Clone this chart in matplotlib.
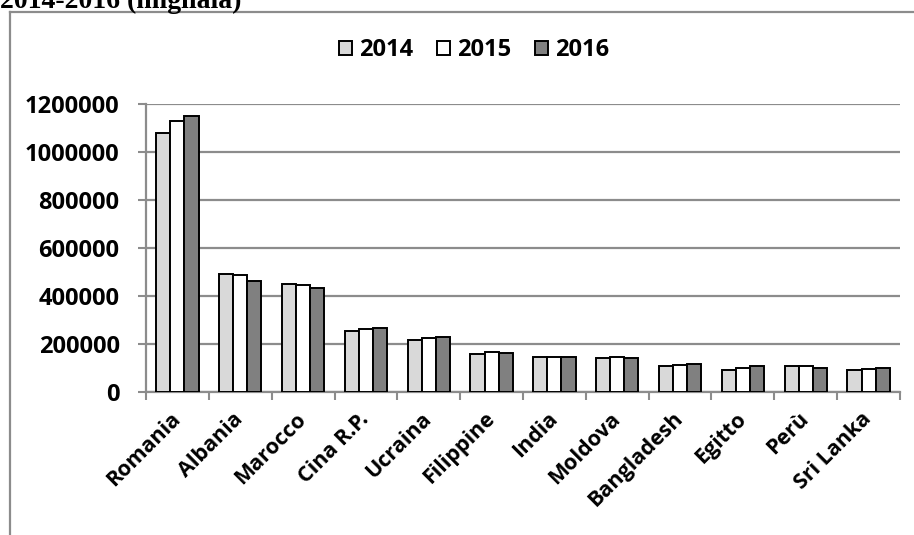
import matplotlib.pyplot as plt
import numpy as np
from matplotlib.lines import Line2D

paesi = ['Romania', 'Albania', 'Marocco', 'Cina R.P.', 'Ucraina', 'Filippine',
         'India', 'Moldova', 'Bangladesh', 'Egitto', 'Perù', 'Sri Lanka']
anni = ['2014', '2015', '2016']
v2014 = [1079000, 494000, 452000, 255000, 218000, 161000, 147000, 142000, 110000, 94000, 110000, 93000]
v2015 = [1129000, 489000, 446000, 264000, 225000, 167000, 147000, 146000, 114000, 103000, 108000, 98000]
v2016 = [1150000, 465000, 435000, 269000, 229000, 164000, 148000, 142000, 117000, 108000, 103000, 101000]
colori = ['#d9d9d9', '#ffffff', '#808080']

W, H = 914, 535
fig = plt.figure(figsize=(W / 100, H / 100), dpi=100)
ax = fig.add_axes([146 / W, 1 - 392.3 / H, (900 - 146) / W, (392.3 - 104.3) / H])

font = {'family': 'Open Sans', 'weight': 'bold'}

x = np.arange(len(paesi))
bw = 0.225
for i, (serie, c) in enumerate(zip([v2014, v2015, v2016], colori)):
    ax.bar(x + (i - 1) * bw, serie, bw, color=c, edgecolor='black', linewidth=1.4,
           label=anni[i], zorder=3)

ax.set_xlim(-0.5, len(paesi) - 0.5)
ax.set_ylim(0, 1200000)
ax.set_yticks(range(0, 1200001, 200000))
ax.set_yticklabels([str(v) for v in range(0, 1200001, 200000)], fontsize=17, **font)
ax.yaxis.grid(True, color='#8c8c8c', linewidth=1.6, zorder=0)
ax.set_axisbelow(True)

# tick marks between categories, labels at the centres
ax.set_xticks(np.arange(-0.5, len(paesi), 1))
ax.set_xticklabels([])
ax.set_xticks(x, minor=True)
ax.set_xticklabels(paesi, minor=True, rotation=45, ha='right', va='center',
                   rotation_mode='anchor', fontsize=15.5, **font)
ax.tick_params(axis='x', which='minor', length=0, pad=17)
ax.tick_params(axis='x', which='major', length=6, color='#8c8c8c', width=1.5)
ax.tick_params(axis='y', length=6, color='#8c8c8c', width=1.5, pad=13)

for s in ['top', 'right']:
    ax.spines[s].set_visible(False)
for s in ['left', 'bottom']:
    ax.spines[s].set_color('#8c8c8c')
    ax.spines[s].set_linewidth(1.6)

leg = fig.legend(loc='center', bbox_to_anchor=(474 / W, 1 - 50 / H), ncol=3, frameon=False,
                 prop={'family': 'Open Sans', 'weight': 'bold', 'size': 17},
                 handlelength=0.55, handleheight=0.55, handletextpad=0.3, columnspacing=1.0)

# chart border (clipped by the image on the right and bottom)
fig.add_artist(Line2D([10 / W, 10 / W], [0, 1 - 12 / H], color='#8c8c8c', lw=1.6))
fig.add_artist(Line2D([10 / W, 1], [1 - 12 / H, 1 - 12 / H], color='#8c8c8c', lw=1.6))

fig.text(0, 1 - 8 / H, '2014-2016 (migliaia)', family='Liberation Serif', fontweight='bold',
         fontsize=20, va='baseline', ha='left')

fig.savefig('out.png', dpi=100)
